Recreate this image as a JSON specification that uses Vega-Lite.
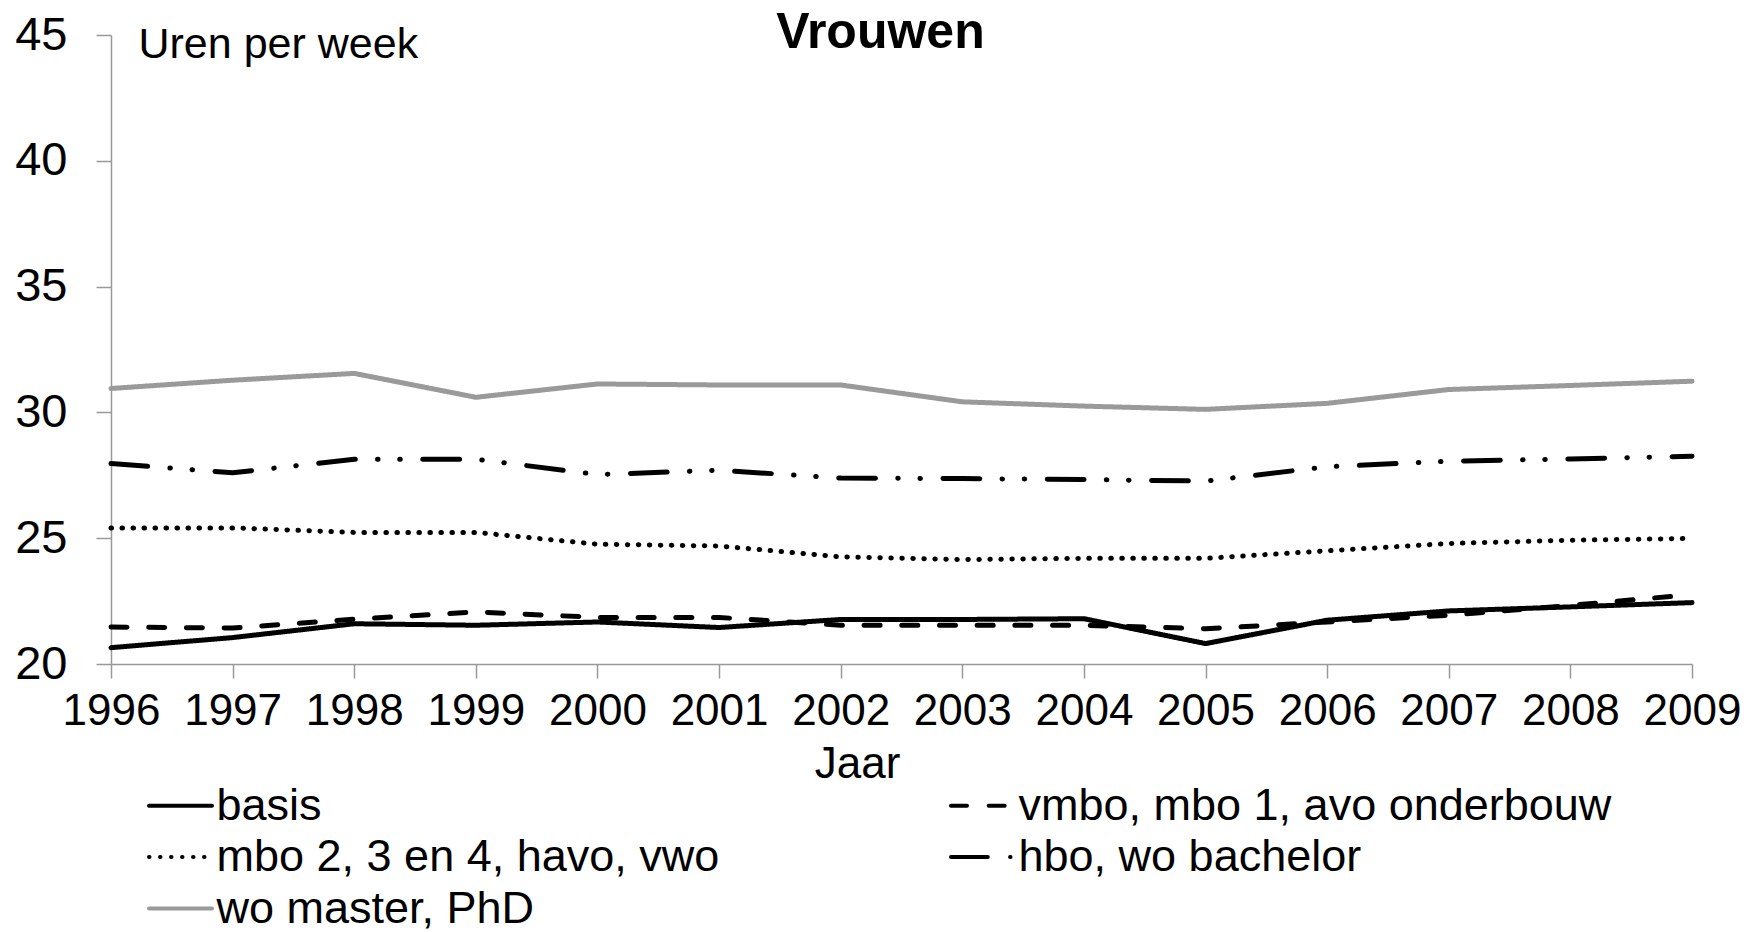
{
  "$schema": "https://vega.github.io/schema/vega-lite/v6.json",
  "width": 1581,
  "height": 629,
  "autosize": {"type": "none"},
  "padding": {"left": 111, "top": 35, "right": 71, "bottom": 268},
  "background": "white",
  "title": {
    "text": "Vrouwen",
    "font": "Liberation Sans",
    "fontSize": 50,
    "fontWeight": "bold",
    "color": "black",
    "anchor": "middle",
    "baseline": "alphabetic",
    "offset": 0,
    "dx": -21,
    "dy": 87
  },
  "data": {
    "values": [
      {"jaar": 1996, "niveau": "basis", "uren": 20.65},
      {"jaar": 1997, "niveau": "basis", "uren": 21.05},
      {"jaar": 1998, "niveau": "basis", "uren": 21.6},
      {"jaar": 1999, "niveau": "basis", "uren": 21.54},
      {"jaar": 2000, "niveau": "basis", "uren": 21.67},
      {"jaar": 2001, "niveau": "basis", "uren": 21.45},
      {"jaar": 2002, "niveau": "basis", "uren": 21.77},
      {"jaar": 2003, "niveau": "basis", "uren": 21.77},
      {"jaar": 2004, "niveau": "basis", "uren": 21.8},
      {"jaar": 2005, "niveau": "basis", "uren": 20.81},
      {"jaar": 2006, "niveau": "basis", "uren": 21.74},
      {"jaar": 2007, "niveau": "basis", "uren": 22.11},
      {"jaar": 2008, "niveau": "basis", "uren": 22.27},
      {"jaar": 2009, "niveau": "basis", "uren": 22.44},
      {"jaar": 1996, "niveau": "vmbo, mbo 1, avo onderbouw", "uren": 21.47},
      {"jaar": 1997, "niveau": "vmbo, mbo 1, avo onderbouw", "uren": 21.43},
      {"jaar": 1998, "niveau": "vmbo, mbo 1, avo onderbouw", "uren": 21.78},
      {"jaar": 1999, "niveau": "vmbo, mbo 1, avo onderbouw", "uren": 22.07},
      {"jaar": 2000, "niveau": "vmbo, mbo 1, avo onderbouw", "uren": 21.85},
      {"jaar": 2001, "niveau": "vmbo, mbo 1, avo onderbouw", "uren": 21.85},
      {"jaar": 2002, "niveau": "vmbo, mbo 1, avo onderbouw", "uren": 21.54},
      {"jaar": 2003, "niveau": "vmbo, mbo 1, avo onderbouw", "uren": 21.54},
      {"jaar": 2004, "niveau": "vmbo, mbo 1, avo onderbouw", "uren": 21.54},
      {"jaar": 2005, "niveau": "vmbo, mbo 1, avo onderbouw", "uren": 21.4},
      {"jaar": 2006, "niveau": "vmbo, mbo 1, avo onderbouw", "uren": 21.67},
      {"jaar": 2007, "niveau": "vmbo, mbo 1, avo onderbouw", "uren": 21.94},
      {"jaar": 2008, "niveau": "vmbo, mbo 1, avo onderbouw", "uren": 22.33},
      {"jaar": 2009, "niveau": "vmbo, mbo 1, avo onderbouw", "uren": 22.76},
      {"jaar": 1996, "niveau": "mbo 2, 3 en 4, havo, vwo", "uren": 25.41},
      {"jaar": 1997, "niveau": "mbo 2, 3 en 4, havo, vwo", "uren": 25.41},
      {"jaar": 1998, "niveau": "mbo 2, 3 en 4, havo, vwo", "uren": 25.23},
      {"jaar": 1999, "niveau": "mbo 2, 3 en 4, havo, vwo", "uren": 25.23},
      {"jaar": 2000, "niveau": "mbo 2, 3 en 4, havo, vwo", "uren": 24.76},
      {"jaar": 2001, "niveau": "mbo 2, 3 en 4, havo, vwo", "uren": 24.69},
      {"jaar": 2002, "niveau": "mbo 2, 3 en 4, havo, vwo", "uren": 24.26},
      {"jaar": 2003, "niveau": "mbo 2, 3 en 4, havo, vwo", "uren": 24.15},
      {"jaar": 2004, "niveau": "mbo 2, 3 en 4, havo, vwo", "uren": 24.2},
      {"jaar": 2005, "niveau": "mbo 2, 3 en 4, havo, vwo", "uren": 24.2},
      {"jaar": 2006, "niveau": "mbo 2, 3 en 4, havo, vwo", "uren": 24.5},
      {"jaar": 2007, "niveau": "mbo 2, 3 en 4, havo, vwo", "uren": 24.79},
      {"jaar": 2008, "niveau": "mbo 2, 3 en 4, havo, vwo", "uren": 24.92},
      {"jaar": 2009, "niveau": "mbo 2, 3 en 4, havo, vwo", "uren": 24.99},
      {"jaar": 1996, "niveau": "hbo, wo bachelor", "uren": 27.97},
      {"jaar": 1997, "niveau": "hbo, wo bachelor", "uren": 27.6},
      {"jaar": 1998, "niveau": "hbo, wo bachelor", "uren": 28.14},
      {"jaar": 1999, "niveau": "hbo, wo bachelor", "uren": 28.14},
      {"jaar": 2000, "niveau": "hbo, wo bachelor", "uren": 27.53},
      {"jaar": 2001, "niveau": "hbo, wo bachelor", "uren": 27.7},
      {"jaar": 2002, "niveau": "hbo, wo bachelor", "uren": 27.39},
      {"jaar": 2003, "niveau": "hbo, wo bachelor", "uren": 27.37},
      {"jaar": 2004, "niveau": "hbo, wo bachelor", "uren": 27.33},
      {"jaar": 2005, "niveau": "hbo, wo bachelor", "uren": 27.27},
      {"jaar": 2006, "niveau": "hbo, wo bachelor", "uren": 27.84},
      {"jaar": 2007, "niveau": "hbo, wo bachelor", "uren": 28.06},
      {"jaar": 2008, "niveau": "hbo, wo bachelor", "uren": 28.15},
      {"jaar": 2009, "niveau": "hbo, wo bachelor", "uren": 28.26},
      {"jaar": 1996, "niveau": "wo master, PhD", "uren": 30.95},
      {"jaar": 1997, "niveau": "wo master, PhD", "uren": 31.28},
      {"jaar": 1998, "niveau": "wo master, PhD", "uren": 31.55},
      {"jaar": 1999, "niveau": "wo master, PhD", "uren": 30.6},
      {"jaar": 2000, "niveau": "wo master, PhD", "uren": 31.13},
      {"jaar": 2001, "niveau": "wo master, PhD", "uren": 31.09},
      {"jaar": 2002, "niveau": "wo master, PhD", "uren": 31.09},
      {"jaar": 2003, "niveau": "wo master, PhD", "uren": 30.42},
      {"jaar": 2004, "niveau": "wo master, PhD", "uren": 30.25},
      {"jaar": 2005, "niveau": "wo master, PhD", "uren": 30.12},
      {"jaar": 2006, "niveau": "wo master, PhD", "uren": 30.36},
      {"jaar": 2007, "niveau": "wo master, PhD", "uren": 30.91},
      {"jaar": 2008, "niveau": "wo master, PhD", "uren": 31.07},
      {"jaar": 2009, "niveau": "wo master, PhD", "uren": 31.24}
    ]
  },
  "mark": {"type": "line", "strokeWidth": 5, "strokeCap": "round", "strokeJoin": "round"},
  "encoding": {
    "x": {
      "field": "jaar",
      "type": "quantitative",
      "scale": {"domain": [1996, 2009], "nice": false, "zero": false},
      "axis": {
        "values": [1996, 1997, 1998, 1999, 2000, 2001, 2002, 2003, 2004, 2005, 2006, 2007, 2008, 2009],
        "format": "d",
        "title": "Jaar",
        "titleX": 746,
        "titleY": 113,
        "titleAlign": "center",
        "titleBaseline": "alphabetic",
        "titleFont": "Liberation Sans",
        "titleFontSize": 44,
        "titleFontWeight": "normal",
        "titleColor": "black",
        "labelFont": "Liberation Sans",
        "labelFontSize": 44,
        "labelColor": "black",
        "labelPadding": 11,
        "labelFlush": false,
        "labelOverlap": false,
        "tickSize": 14,
        "tickColor": "#999999",
        "tickWidth": 1.5,
        "domainColor": "#999999",
        "domainWidth": 1.5,
        "grid": false
      }
    },
    "y": {
      "field": "uren",
      "type": "quantitative",
      "scale": {"domain": [20, 45], "nice": false, "zero": false},
      "axis": {
        "values": [20, 25, 30, 35, 40, 45],
        "title": "Uren per week",
        "titleAngle": 0,
        "titleX": 27,
        "titleY": 22,
        "titleAlign": "left",
        "titleBaseline": "alphabetic",
        "titleFont": "Liberation Sans",
        "titleFontSize": 43,
        "titleFontWeight": "normal",
        "titleColor": "black",
        "labelFont": "Liberation Sans",
        "labelFontSize": 47,
        "labelColor": "black",
        "labelPadding": 29,
        "labelFlush": false,
        "tickSize": 15,
        "tickColor": "#999999",
        "tickWidth": 1.5,
        "domainColor": "#999999",
        "domainWidth": 1.5,
        "grid": false
      }
    },
    "color": {
      "field": "niveau",
      "type": "nominal",
      "scale": {
        "domain": ["basis", "vmbo, mbo 1, avo onderbouw", "mbo 2, 3 en 4, havo, vwo", "hbo, wo bachelor", "wo master, PhD"],
        "range": ["#000000", "#000000", "#000000", "#000000", "#9a9a9a"]
      },
      "legend": {
        "orient": "none",
        "legendX": 47,
        "legendY": 748,
        "direction": "horizontal",
        "columns": 2,
        "columnPadding": 223,
        "rowPadding": 5.5,
        "padding": 0,
        "title": null,
        "symbolType": "M-3,0H3",
        "symbolSize": 441,
        "symbolStrokeWidth": 4,
        "labelFont": "Liberation Sans",
        "labelFontSize": 45,
        "labelColor": "black",
        "labelOffset": 13.5,
        "labelLimit": 1000,
        "encode": {"symbols": {"update": {"strokeCap": {"value": "round"}}}}
      }
    },
    "strokeDash": {
      "field": "niveau",
      "type": "nominal",
      "scale": {
        "domain": ["basis", "vmbo, mbo 1, avo onderbouw", "mbo 2, 3 en 4, havo, vwo", "hbo, wo bachelor", "wo master, PhD"],
        "range": [[1, 0], [16, 21.7], [0.5, 10.5], [36.8, 22.25, 0.5, 21.7, 0.5, 22.55], [1, 0]]
      }
    }
  },
  "config": {
    "view": {"stroke": null},
    "font": "Liberation Sans"
  }
}
